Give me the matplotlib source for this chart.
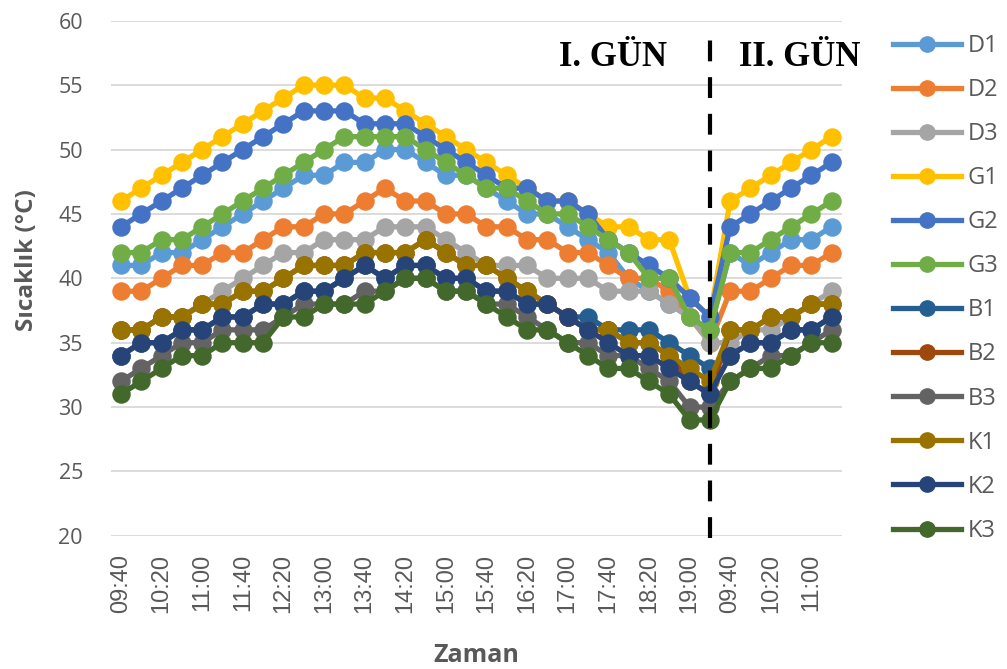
import matplotlib
matplotlib.use("Agg")
import matplotlib.pyplot as plt
from matplotlib.lines import Line2D

# Measurement times (20-minute steps): day I then day II
times = ["09:40", "10:00", "10:20", "10:40", "11:00", "11:20", "11:40", "12:00",
         "12:20", "12:40", "13:00", "13:20", "13:40", "14:00", "14:20", "14:40",
         "15:00", "15:20", "15:40", "16:00", "16:20", "16:40", "17:00", "17:20",
         "17:40", "18:00", "18:20", "18:40", "19:00", "19:20",
         "09:40", "10:00", "10:20", "10:40", "11:00", "11:20"]

# Temperatures (°C) per sensor
d1 = [41, 41, 42, 42, 43, 44, 45, 46, 47, 48, 48, 49, 49, 50, 50, 49, 48, 48,
      47, 46, 45, 45, 44, 43, 42, 40, 39, 38, 37, 36, 42, 41, 42, 43, 43, 44]
d2 = [39, 39, 40, 41, 41, 42, 42, 43, 44, 44, 45, 45, 46, 47, 46, 46, 45, 45,
      44, 44, 43, 43, 42, 42, 41, 40, 40, 39, 37, 35, 39, 39, 40, 41, 41, 42]
d3 = [36, 36, 37, 37, 38, 39, 40, 41, 42, 42, 43, 43, 43, 44, 44, 44, 43, 42,
      41, 41, 41, 40, 40, 40, 39, 39, 39, 38, 37, 35, 35, 36, 36, 37, 38, 39]
g1 = [46, 47, 48, 49, 50, 51, 52, 53, 54, 55, 55, 55, 54, 54, 53, 52, 51, 50,
      49, 48, 47, 46, 46, 45, 44, 44, 43, 43, 38.5, 37, 46, 47, 48, 49, 50, 51]
g2 = [44, 45, 46, 47, 48, 49, 50, 51, 52, 53, 53, 53, 52, 52, 52, 51, 50, 49,
      48, 47, 47, 46, 46, 45, 43, 42, 41, 40, 38.5, 37, 44, 45, 46, 47, 48, 49]
g3 = [42, 42, 43, 43, 44, 45, 46, 47, 48, 49, 50, 51, 51, 51, 51, 50, 49, 48,
      47, 47, 46, 45, 45, 44, 43, 42, 40, 40, 37, 36, 42, 42, 43, 44, 45, 46]
b1 = [34, 35, 35, 36, 36, 37, 37, 38, 38, 39, 39, 40, 41, 40, 41, 41, 40, 40,
      39, 39, 38, 38, 37, 37, 36, 36, 36, 35, 34, 33, 34, 35, 35, 36, 36, 37]
b2 = [36, 36, 37, 37, 38, 38, 39, 39, 40, 41, 41, 41, 42, 42, 42, 43, 42, 41,
      41, 40, 39, 38, 37, 36, 36, 35, 35, 34, 32, 31, 36, 36, 37, 37, 38, 38]
b3 = [32, 33, 34, 35, 35, 36, 36, 36, 37, 38, 38, 38, 39, 39, 40, 40, 39, 39,
      38, 38, 37, 36, 35, 35, 34, 34, 33, 32, 30, 30, 32, 33, 34, 34, 35, 36]
k1 = [36, 36, 37, 37, 38, 38, 39, 39, 40, 41, 41, 41, 42, 42, 42, 43, 42, 41,
      41, 40, 39, 38, 37, 36, 36, 35, 35, 34, 33, 32, 36, 36, 37, 37, 38, 38]
k2 = [34, 35, 35, 36, 36, 37, 37, 38, 38, 39, 39, 40, 41, 40, 41, 41, 40, 40,
      39, 39, 38, 38, 37, 36, 35, 34, 34, 33, 32, 31, 34, 35, 35, 36, 36, 37]
k3 = [31, 32, 33, 34, 34, 35, 35, 35, 37, 37, 38, 38, 38, 39, 40, 40, 39, 39,
      38, 37, 36, 36, 35, 34, 33, 33, 32, 31, 29, 29, 32, 33, 33, 34, 35, 35]

names = ["D1", "D2", "D3", "G1", "G2", "G3", "B1", "B2", "B3", "K1", "K2", "K3"]
colors = ["#5B9BD5", "#ED7D31", "#A5A5A5", "#FFC000", "#4472C4", "#70AD47",
          "#255E91", "#9E480E", "#636363", "#997300", "#264478", "#43682B"]
values = [d1, d2, d3, g1, g2, g3, b1, b2, b3, k1, k2, k3]

day_break = "19:20"      # last reading of day I
TEXT_GREY = "#595959"

fig = plt.figure(figsize=(10.07, 6.69), dpi=100)
ax = fig.add_axes([0.110, 0.199, 0.726, 0.770])

x = list(range(len(times)))
for i, (name, vals, col) in enumerate(zip(names, values, colors)):
    ax.plot(x, vals, color=col, lw=3.8, marker="o", ms=12.3, mfc=col, mec=col,
            solid_joinstyle="round", solid_capstyle="round", zorder=3 + i)

ax.set_xlim(-0.5, len(times) - 0.5)
ax.set_ylim(20, 60)
ax.set_yticks(range(20, 61, 5))
ax.set_xticks(x[::2])
ax.set_xticklabels(times[::2], rotation=90, fontsize=17,
                   family="Liberation Sans", color=TEXT_GREY)
for lab in ax.get_yticklabels():
    lab.set_fontsize(15.5)
    lab.set_family("Open Sans")
    lab.set_color(TEXT_GREY)

ax.grid(axis="y", color="#D9D9D9", lw=1.3)
ax.grid(axis="x", visible=False)
ax.set_axisbelow(True)
for sp in ax.spines.values():
    sp.set_visible(False)
ax.tick_params(axis="y", length=0, pad=20)
ax.tick_params(axis="x", length=0, pad=13)

# Vertical separator between the two days
xb = times.index(day_break)
ax.plot([xb, xb], [19.8, 58.6], color="black", lw=3, ls=(0, (5, 3.8)),
        clip_on=False, zorder=30)

fig.text(613 / 1007, 1 - 58 / 669, "I. GÜN", ha="center", va="center",
         family="Liberation Serif", fontweight="bold", fontsize=25, color="black")
fig.text(800 / 1007, 1 - 58 / 669, "II. GÜN", ha="center", va="center",
         family="Liberation Serif", fontweight="bold", fontsize=25, color="black")

fig.text(27 / 1007, 1 - 260 / 669, "Sıcaklık (°C)", rotation=90, ha="center",
         va="center", family="Open Sans", fontweight="bold", fontsize=17.5,
         color=TEXT_GREY)
fig.text(476 / 1007, 1 - 655 / 669, "Zaman", ha="center", va="center",
         family="Open Sans", fontweight="bold", fontsize=18, color=TEXT_GREY)

handles = [Line2D([], [], color=c, lw=3.8, marker="o", ms=11, mfc=c, mec=c)
           for c in colors]
leg = fig.legend(handles, names, loc="upper left",
                 bbox_to_anchor=(893 / 1007, 1 - 34 / 669), frameon=False,
                 borderaxespad=0, borderpad=0, handlelength=2.9,
                 handletextpad=0.25, labelspacing=0.85,
                 prop={"family": "Open Sans", "size": 17})
for t in leg.get_texts():
    t.set_color(TEXT_GREY)

fig.savefig("out.png", dpi=100, facecolor="white")
